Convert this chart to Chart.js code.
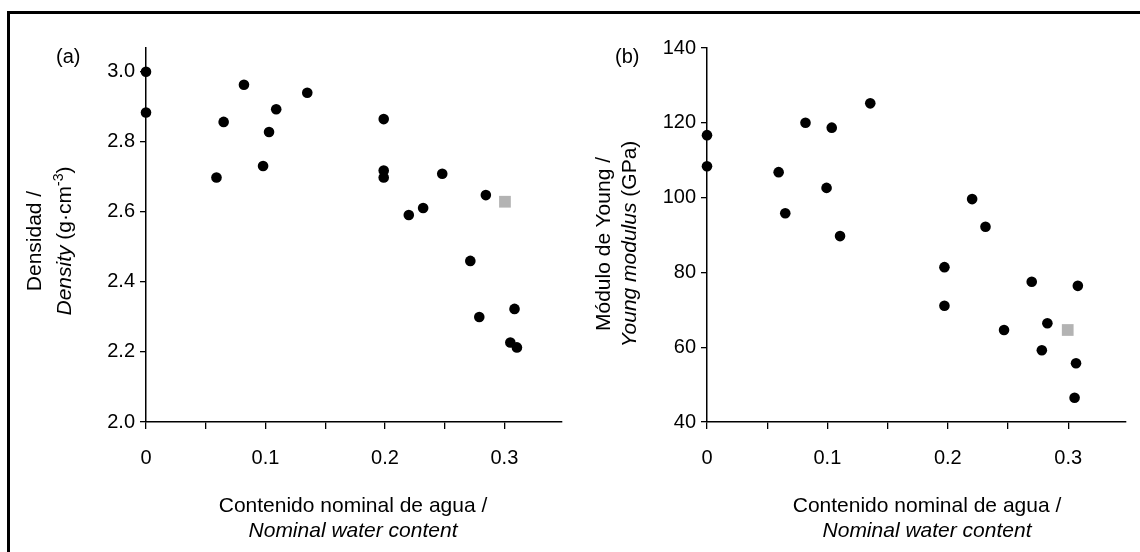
<!DOCTYPE html>
<html>
<head>
<meta charset="utf-8">
<script src="https://cdn.jsdelivr.net/npm/chart.js@4"></script>
<style>
  html, body { margin: 0; padding: 0; background: #fff; overflow: hidden; }
  #wrap { position: relative; width: 1140px; height: 552px; font-family: "Liberation Sans", Arial, sans-serif; color: #000; }
  #frame { position: absolute; left: 7px; top: 11px; width: 1200px; height: 600px; border-left: 3px solid #000; border-top: 3px solid #000; }
  canvas { position: absolute; top: 0; }
  .ytitle { position: absolute; width: 300px; text-align: center; font-size: 21px; transform: rotate(-90deg); transform-origin: center center; white-space: nowrap; }
  .xtitle { position: absolute; width: 400px; text-align: center; font-size: 21px; line-height: 24.5px; white-space: nowrap; }
  .panel { position: absolute; font-size: 20px; line-height: 20px; }
  sup { font-size: 14px; vertical-align: 8px; line-height: 0; }
</style>
</head>
<body>
<div id="wrap">
  <div id="frame"></div>
  <canvas id="chartA" width="570" height="552" style="left:0"></canvas>
  <canvas id="chartB" width="570" height="552" style="left:570px"></canvas>

  <div class="panel" style="left:56px; top:46px">(a)</div>
  <div class="panel" style="left:615px; top:46px">(b)</div>

  <div class="ytitle" style="left:-101px; top:211px; line-height:30px">Densidad /<br><i>Density</i> (g·cm<sup>-3</sup>)</div>
  <div class="ytitle" style="left:466px; top:218px; line-height:26px">Módulo de Young /<br><i>Young modulus</i> (GPa)</div>

  <div class="xtitle" style="left:153px; top:493px">Contenido nominal de agua /<br><i>Nominal water content</i></div>
  <div class="xtitle" style="left:727px; top:493px">Contenido nominal de agua /<br><i>Nominal water content</i></div>
</div>

<script>
// (a) densidad vs contenido de agua
const waterA = [0, 0, 0.059, 0.065, 0.082, 0.098, 0.103, 0.109, 0.135, 0.199, 0.199, 0.199,
                0.220, 0.232, 0.248, 0.2845, 0.2715, 0.279, 0.3085, 0.305, 0.3105];
const densityA = [3.0, 2.884, 2.698, 2.857, 2.963, 2.731, 2.828, 2.893, 2.94, 2.865, 2.718, 2.698,
                  2.591, 2.611, 2.709, 2.648, 2.46, 2.30, 2.323, 2.227, 2.213];
const grayWaterA = [0.3005];
const grayDensityA = [2.629];

// (b) modulo de Young vs contenido de agua
const waterB = [0, 0, 0.0595, 0.065, 0.0818, 0.0993, 0.1036, 0.1105, 0.1356, 0.1972, 0.2202, 0.2313,
                0.1972, 0.2697, 0.308, 0.2467, 0.2827, 0.2781, 0.3065, 0.3053];
const youngB = [116.7, 108.4, 106.8, 95.8, 120.0, 102.6, 118.7, 89.7, 125.2, 81.4, 99.6, 92.2,
                71.1, 77.5, 76.4, 64.6, 66.4, 59.2, 55.7, 46.5];
const grayWaterB = [0.2996];
const grayYoungB = [64.6];

// ticks
const xTicks = [0, 0.05, 0.1, 0.15, 0.2, 0.25, 0.3];
const xTickLabels = ['0', '', '0.1', '', '0.2', '', '0.3'];
const yTicksA = [2.0, 2.2, 2.4, 2.6, 2.8, 3.0];
const yTickLabelsA = ['2.0', '2.2', '2.4', '2.6', '2.8', '3.0'];
const yTicksB = [40, 60, 80, 100, 120, 140];
const yTickLabelsB = ['40', '60', '80', '100', '120', '140'];

const FONT = "'Liberation Sans', Arial, sans-serif";

function pts(xs, ys) {
    return xs.map((x, i) => ({ x: x, y: ys[i] }));
}

function makeChart(id, black, gray, yMin, yMax, yTicks, yLabels, yWidth, padRight) {
    const ctx = document.getElementById(id).getContext('2d');
    return new Chart(ctx, {
        type: 'scatter',
        data: {
            datasets: [{
                data: black,
                pointRadius: 5.3,
                pointHoverRadius: 5.3,
                backgroundColor: '#000',
                borderWidth: 0,
                clip: false
            }, {
                data: gray,
                pointStyle: 'rect',
                pointRadius: 8.3,
                pointHoverRadius: 8.3,
                backgroundColor: '#b3b3b3',
                borderWidth: 0,
                clip: false
            }]
        },
        options: {
            responsive: false,
            animation: false,
            devicePixelRatio: 1,
            events: [],
            layout: { padding: { top: 48, right: padRight, bottom: 0, left: 0 } },
            plugins: { legend: { display: false }, tooltip: { enabled: false } },
            scales: {
                x: {
                    type: 'linear',
                    min: 0,
                    max: 0.348,
                    afterBuildTicks: s => { s.ticks = xTicks.map(v => ({ value: v })); },
                    afterFit: s => { s.height = 130; },
                    border: { display: true, color: '#000', width: 1.5 },
                    grid: { drawOnChartArea: false, drawTicks: true, tickLength: 7, color: '#000', lineWidth: 1.3 },
                    ticks: {
                        color: '#000',
                        font: { family: FONT, size: 20 },
                        padding: 17,
                        maxRotation: 0,
                        autoSkip: false,
                        callback: (v, i) => xTickLabels[i]
                    }
                },
                y: {
                    type: 'linear',
                    min: yMin,
                    max: yMax,
                    afterBuildTicks: s => { s.ticks = yTicks.map(v => ({ value: v })); },
                    afterFit: s => { s.width = yWidth; },
                    border: { display: true, color: '#000', width: 1.5 },
                    grid: { drawOnChartArea: false, drawTicks: true, tickLength: 6, color: '#000', lineWidth: 1.3 },
                    ticks: {
                        color: '#000',
                        font: { family: FONT, size: 20 },
                        padding: 5,
                        autoSkip: false,
                        callback: (v, i) => yLabels[i]
                    }
                }
            }
        }
    });
}

makeChart('chartA', pts(waterA, densityA), pts(grayWaterA, grayDensityA),
          2.0, 3.068, yTicksA, yTickLabelsA, 146, 4);
makeChart('chartB', pts(waterB, youngB), pts(grayWaterB, grayYoungB),
          40, 140, yTicksB, yTickLabelsB, 137, 14);
</script>
</body>
</html>
